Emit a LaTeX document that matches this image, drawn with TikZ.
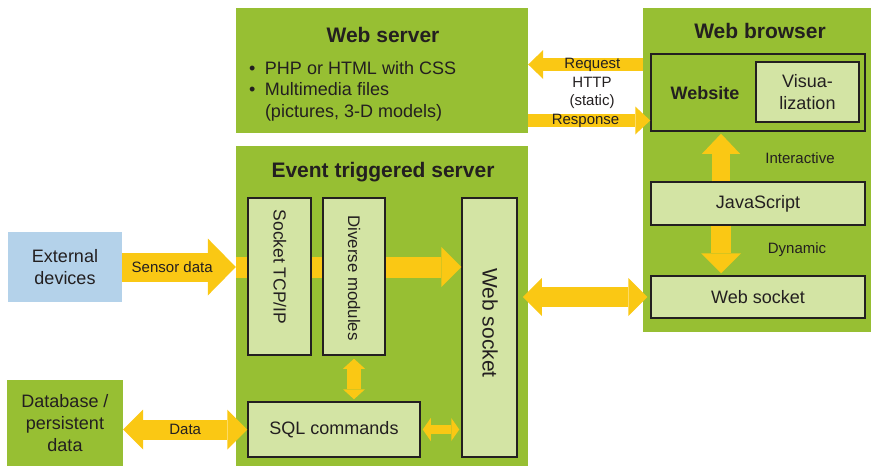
\documentclass[tikz,border=0pt]{standalone}
\usepackage{fontspec}
\setmainfont{Liberation Sans}
\usetikzlibrary{arrows.meta}
\definecolor{srvgreen}{HTML}{97BF33}
\definecolor{boxgreen}{HTML}{D3E4A4}
\definecolor{devblue}{HTML}{B4D2EA}
\definecolor{flowyellow}{HTML}{FAC814}
\definecolor{ink}{HTML}{231F20}
\newcommand{\titlefont}{\fontsize{21}{24}\selectfont\bfseries}
\newcommand{\boxfont}{\fontsize{18}{22}\selectfont}
\newcommand{\lblfont}{\fontsize{15}{18}\selectfont}
\newcommand{\itembul}{\textbullet\hspace{9.5pt}}

\begin{document}
\begin{tikzpicture}[x=1pt,y=-1pt,
    every node/.style={text=ink, inner sep=0pt},
    serverbox/.style={fill=srvgreen},
    modbox/.style={draw=ink, line width=1.5pt, fill=boxgreen, font=\boxfont},
    fatflow/.style={draw=flowyellow, line width=#1}]
        \useasboundingbox (0,0) rectangle (872,466);
        % outside
        \node [fill=devblue, minimum width=114pt, minimum height=70pt, align=center, font=\boxfont] (ext) at (65,267) {External\\devices};
        \node [serverbox, minimum width=116pt, minimum height=86pt, align=center, font=\boxfont] (db) at (65,423) {Database /\\persistent\\data};
        % web server
        \node [serverbox, minimum width=292pt, minimum height=125pt] (websrv) at (382,70.5) {};
        \node [font=\titlefont] (websrvtitle) at (383,35) {Web server};
        \node [anchor=west, align=left, font=\fontsize{18}{21.5}\selectfont] (websrvlist) at (249,91)
            {\itembul PHP or HTML with CSS\\ \itembul Multimedia files\\ \phantom{\itembul}(pictures, 3-D models)};
        % web browser
        \node [serverbox, minimum width=228pt, minimum height=324pt] (browser) at (757,170) {};
        \node [font=\titlefont] (browsertitle) at (760,31) {Web browser};
        \node [draw=ink, line width=1.5pt, minimum width=214pt, minimum height=77pt] (website) at (758,92.5) {};
        \node [font=\boxfont\bfseries] (websitelbl) at (705,93) {Website};
        \node [modbox, minimum width=103pt, minimum height=60pt, align=center] (visual) at (807.5,92) {Visua-\\lization};
        \node [modbox, minimum width=214pt, minimum height=43pt] (js) at (758,203.5) {JavaScript};
        \node [modbox, minimum width=214pt, minimum height=42pt] (bws) at (758,297) {Web socket};
        \node [font=\lblfont] (interlbl) at (800,158) {Interactive};
        \node [font=\lblfont] (dynlbl) at (797,250) {Dynamic};
        % event triggered server
        \node [serverbox, minimum width=292pt, minimum height=320pt] (evsrv) at (382,306) {};
        \node [font=\titlefont] (evsrvtitle) at (383,172) {Event triggered server};
        \node [modbox, minimum width=55pt, minimum height=259pt] (sws) at (489.5,327.5) {};
        \node [rotate=-90, font=\fontsize{21}{24}\selectfont] (swslbl) at (490,323) {Web socket};
        \draw [fatflow=21pt, >={Triangle[length=20pt,width=40pt,line width=0pt]}, ->] (ext.east -| evsrv.west) -- (ext.east -| sws.west);
        \node [modbox, minimum width=63pt, minimum height=157pt] (sock) at (279.5,276.5) {};
        \node [rotate=-90, font=\fontsize{17.5}{20}\selectfont] (socklbl) at (280,267) {Socket TCP/IP};
        \node [modbox, minimum width=62pt, minimum height=157pt] (divm) at (354,276.5) {};
        \node [rotate=-90, font=\fontsize{16.8}{20}\selectfont] (divmlbl) at (354,278) {Diverse modules};
        \node [modbox, minimum width=172pt, minimum height=55pt] (sql) at (334,429.5) {SQL commands};
        % arrows
        \draw [fatflow=29pt, >={Triangle[length=28pt,width=57pt,line width=0pt]}, ->] (ext.east) -- (ext.east -| evsrv.west)
            node [pos=0.44, font=\lblfont] {Sensor data};
        \draw [fatflow=14pt, >={Triangle[length=10pt,width=22pt,line width=0pt]}, <->, shorten <=3pt, shorten >=2pt] (divm.south) -- (divm.south |- sql.north);
        \draw [fatflow=9pt, >={Triangle[length=8pt,width=23pt,line width=0pt]}, <->, shorten <=2pt, shorten >=2pt] (sql.east) -- (sql.east -| sws.west);
        \draw [fatflow=20pt, >={Triangle[length=19pt,width=38pt,line width=0pt]}, <->, shorten <=5pt, shorten >=3pt] (sws.east |- bws.west) -- (bws.west);
        \draw [fatflow=20pt, >={Triangle[length=20pt,width=40pt,line width=0pt]}, <->] (db.east |- sql.west) -- (sql.west)
            node [midway, font=\lblfont] {Data};
        \draw [fatflow=13pt, >={Triangle[length=15pt,width=29pt,line width=0pt]}, ->] ([yshift=6pt]websrv.east -| browser.west) -- ([yshift=6pt]websrv.east)
            node [pos=0.44, font=\lblfont] {Request};
        \draw [fatflow=13pt, >={Triangle[length=15pt,width=28pt,line width=0pt]}, ->] ([yshift=-50pt]websrv.east) -- ([yshift=-50pt]websrv.east -| website.west)
            node [pos=0.47, font=\lblfont] {Response};
        \node [font=\lblfont, align=center] (http) at (592,93) {HTTP\\(static)};
        \draw [fatflow=18pt, >={Triangle[length=20pt,width=38pt,line width=0pt]}, ->, shorten >=2pt] ([xshift=-37pt]js.north) -- ([xshift=-37pt]website.south);
        \draw [fatflow=20pt, >={Triangle[length=20pt,width=40pt,line width=0pt]}, ->, shorten >=2pt] ([xshift=-37pt]js.south) -- ([xshift=-37pt]bws.north);
      \end{tikzpicture}
\end{document}
